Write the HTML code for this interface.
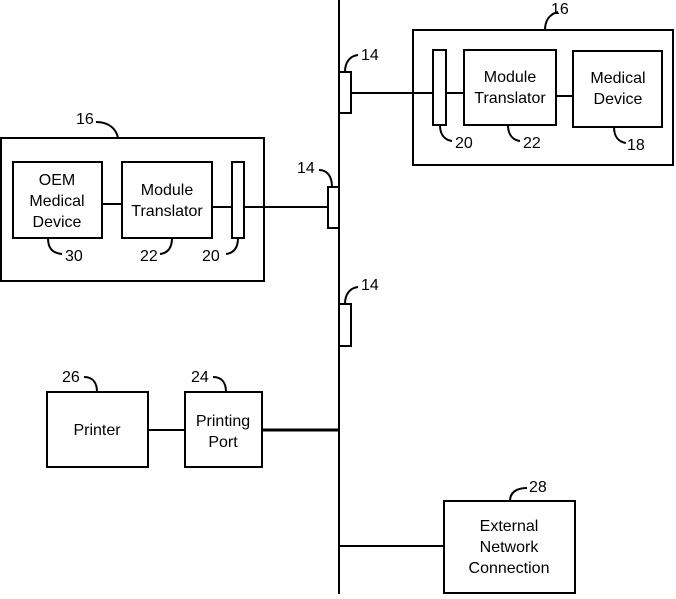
<!DOCTYPE html>
<html><head><style>
body{margin:0;background:#fff}
svg text{font-family:"Liberation Sans",Arial,sans-serif;font-size:16px;fill:#000}
</style></head><body>
<svg width="676" height="594" viewBox="0 0 676 594" xmlns="http://www.w3.org/2000/svg">
<g fill="none" stroke="#000" stroke-width="2">
<line x1="339" y1="0" x2="339" y2="594"/>
<rect x="413" y="30" width="260" height="135"/>
<rect x="433" y="50" width="13" height="75"/>
<rect x="464" y="50" width="92" height="75"/>
<rect x="573" y="51" width="89" height="76"/>
<rect x="339" y="72" width="12" height="41"/>
<line x1="351" y1="93" x2="433" y2="93"/>
<line x1="446" y1="93" x2="464" y2="93"/>
<line x1="556" y1="96" x2="573" y2="96"/>
<path d="M545 30 C545 20 550 14 558 12"/>
<path d="M345 72 C345 62 350 56 358 55"/>
<path d="M440 125 C440 135 445 140 452 141"/>
<path d="M508 125 C508 135 513 140 520 141"/>
<path d="M614 127 C614 137 619 142 626 143"/>
<rect x="1" y="138" width="263" height="143"/>
<rect x="13" y="162" width="89" height="76"/>
<rect x="122" y="162" width="90" height="76"/>
<rect x="232" y="162" width="12" height="76"/>
<rect x="328" y="187" width="11" height="41"/>
<line x1="102" y1="204" x2="122" y2="204"/>
<line x1="212" y1="207" x2="232" y2="207"/>
<line x1="244" y1="207" x2="328" y2="207"/>
<path d="M96 122 C108 122 116 128 118 138"/>
<path d="M319 170 C327 170 332 176 332 187"/>
<path d="M48 238 C48 248 52 253 62 254"/>
<path d="M172 238 C172 248 168 253 160 254"/>
<path d="M238 238 C238 248 234 253 226 254"/>
<rect x="339" y="304" width="12" height="42"/>
<path d="M345 304 C345 294 350 288 358 287"/>
<rect x="47" y="392" width="101" height="75"/>
<rect x="185" y="392" width="77" height="75"/>
<line x1="148" y1="430" x2="185" y2="430"/>
<line x1="262" y1="430" x2="339" y2="430" stroke-width="3"/>
<path d="M84 377 C93 377 97 383 97 392"/>
<path d="M213 377 C222 377 226 383 226 392"/>
<rect x="444" y="501" width="131" height="92"/>
<line x1="339" y1="546" x2="444" y2="546"/>
<path d="M510 501 C510 492 517 488 527 488"/>
</g>
<text x="551" y="14">16</text>
<text x="361" y="60">14</text>
<text x="510" y="82" text-anchor="middle">Module</text>
<text x="510" y="103" text-anchor="middle">Translator</text>
<text x="618" y="83" text-anchor="middle">Medical</text>
<text x="618" y="104" text-anchor="middle">Device</text>
<text x="455" y="148">20</text>
<text x="523" y="148">22</text>
<text x="627" y="150">18</text>
<text x="76" y="124">16</text>
<text x="297" y="173">14</text>
<text x="57" y="185" text-anchor="middle">OEM</text>
<text x="57" y="206" text-anchor="middle">Medical</text>
<text x="57" y="227" text-anchor="middle">Device</text>
<text x="167" y="195" text-anchor="middle">Module</text>
<text x="167" y="216" text-anchor="middle">Translator</text>
<text x="65" y="261">30</text>
<text x="140" y="261">22</text>
<text x="202" y="261">20</text>
<text x="361" y="290">14</text>
<text x="62" y="382">26</text>
<text x="191" y="382">24</text>
<text x="97" y="435" text-anchor="middle">Printer</text>
<text x="223" y="426" text-anchor="middle">Printing</text>
<text x="223" y="447" text-anchor="middle">Port</text>
<text x="529" y="492">28</text>
<text x="509" y="531" text-anchor="middle">External</text>
<text x="509" y="552" text-anchor="middle">Network</text>
<text x="509" y="573" text-anchor="middle">Connection</text>
</svg>
</body></html>
